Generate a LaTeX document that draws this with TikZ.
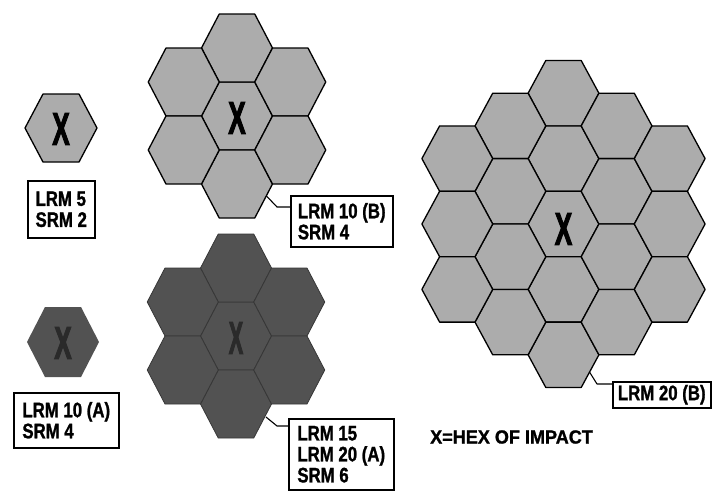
\documentclass[tikz,border=0pt]{standalone}
\usepackage{fontspec}
\newfontfamily\lblfont[FakeStretch=0.8,FakeBold=1.2]{Liberation Sans}
\newfontfamily\xfont[FakeBold=3]{Liberation Sans}
\newfontfamily\keyfont[FakeStretch=0.95,FakeBold=1.2]{Liberation Sans}
\definecolor{hexlight}{RGB}{172,172,172}
\definecolor{hexdark}{RGB}{82,82,82}
\definecolor{hexdarkline}{RGB}{55,55,55}
\definecolor{xdark}{RGB}{42,42,42}
\newcommand\myhex[2]{(-#1,0) -- (-#1/2,-#2) -- (#1/2,-#2) -- (#1,0) -- (#1/2,#2) -- (-#1/2,#2) -- cycle}
\tikzset{
  lighthex/.style={fill=hexlight, draw=black, line width=1.3pt, line join=round},
  darkhex/.style={fill=hexdark, draw=hexdarkline, line width=0.8pt, line join=round},
  bigx/.style={font=\xfont\bfseries\fontsize{45}{45}\selectfont, inner sep=0pt},
  lblbox/.style 2 args={draw=black, line width=1.5pt, fill=white, anchor=north west,
    font=\lblfont\bfseries\fontsize{21}{21}\selectfont, align=left,
    inner xsep=0pt, inner ysep=0pt, minimum width=#1pt, minimum height=#2pt},
  leader/.style={draw=black, line width=1.1pt, line join=round}
}
\begin{document}
\begin{tikzpicture}[x=1pt,y=-1pt]
\useasboundingbox[fill=white] (0,0) rectangle (712,490);

% single light hex
\draw[lighthex, shift={(61,128)}] \myhex{36}{34};
\node[bigx] (x1) at (61,129) {\scalebox{0.58}[1.02]{X}};

% single dark hex
\fill[hexdark, shift={(63,342)}] \myhex{36}{35};
\node[bigx, text=xdark] (x2) at (63,343) {\scalebox{0.58}[1.02]{X}};

% light 7-hex cluster
\foreach \a/\b in {0/0,0/-2,0/2,1/-1,1/1,-1/-1,-1/1}
  \draw[lighthex, shift={(237+53.25*\a,116+34*\b)}] \myhex{35.5}{34};
\node[bigx] (x3) at (237,118) {\scalebox{0.58}[1.02]{X}};

% dark 7-hex cluster
\foreach \a/\b in {0/0,0/-2,0/2,1/-1,1/1,-1/-1,-1/1}
  \draw[darkhex, shift={(236+53.25*\a,336+34*\b)}] \myhex{35.5}{34};
\node[bigx, text=xdark] (x4) at (236,338) {\scalebox{0.48}[1.02]{X}};

% large 19-hex cluster
\foreach \a/\ys in {0/{-4,-2,0,2,4},1/{-3,-1,1,3},-1/{-3,-1,1,3},2/{-2,0,2},-2/{-2,0,2}}
  \foreach \b in \ys
    \draw[lighthex, shift={(563.5+53.1*\a,224+32.7*\b)}] \myhex{35.4}{32.7};
\node[bigx] (x5) at (563.5,229) {\scalebox{0.58}[1.02]{X}};

% label boxes
\node[lblbox={67}{57}] (b1) at (27,180) {LRM 5\\SRM 2};
\node[lblbox={105}{55}] (b2) at (13,392) {LRM 10 (A)\\SRM 4};
\node[lblbox={102}{51}] (b3) at (290,195) {LRM 10 (B)\\SRM 4};
\node[lblbox={105}{71}] (b4) at (288,418) {LRM 15\\LRM 20 (A)\\SRM 6};
\node[lblbox={98}{26}] (b5) at (612,381) {LRM 20 (B)};

% leaders
\coordinate (s3) at (266.5,196);
\coordinate (k3) at (277,207);
\draw[leader] (s3) -- (k3) -- (k3 -| b3.west);
\coordinate (s4) at (266,417);
\coordinate (k4) at (277,426);
\draw[leader] (s4) -- (k4) -- (k4 -| b4.west);
\coordinate (s5) at (589.5,372);
\coordinate (k5) at (597,384);
\draw[leader] (s5) -- (k5) -- (k5 -| b5.west);

% key
\node[anchor=west, inner sep=0pt, font=\keyfont\bfseries\fontsize{19}{19}\selectfont] (key) at (430,437) {X=HEX OF IMPACT};
\end{tikzpicture}
\end{document}
